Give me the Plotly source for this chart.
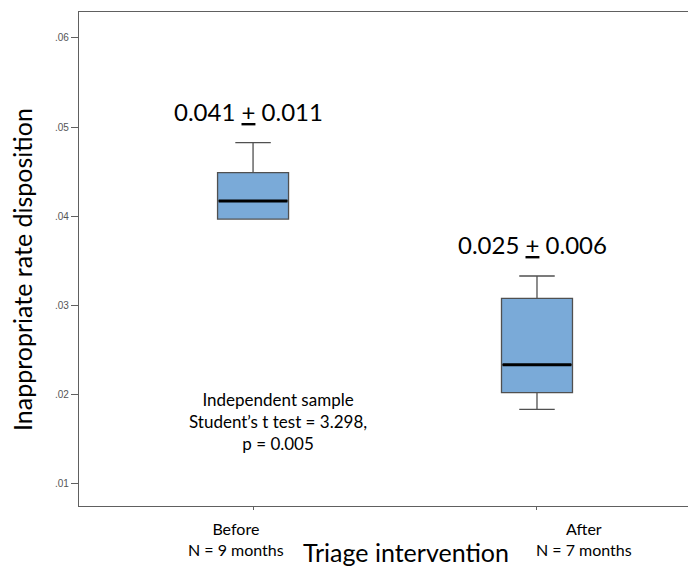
import plotly.graph_objects as go

# ---- data ----
groups = ["Before", "After"]
group_labels = ["Before<br>N = 9 months", "After<br>N = 7 months"]
positions = [0, 1]
q1 = [0.03966, 0.02015]
median = [0.04169, 0.02329]
q3 = [0.04487, 0.03075]
lower_fence = [0.03966, 0.01828]
upper_fence = [0.04824, 0.03326]
summary_text = ["0.041 <u>+</u> 0.011", "0.025 <u>+</u> 0.006"]
y_ticks = [0.01, 0.02, 0.03, 0.04, 0.05, 0.06]
y_tick_text = [".01", ".02", ".03", ".04", ".05", ".06"]

BOX_W = 0.25
FONT = "Lato"

# page has an 8px body margin; work in page pixels and convert
OFF = 8
W, H = 696 - OFF, 568 - OFF
plot_l, plot_r, plot_t, plot_b = 79 - OFF, 696 - OFF, 12 - OFF, 506 - OFF


def px(x):
    return (x - OFF - plot_l) / (plot_r - plot_l)


def py(y):
    return (plot_b - (y - OFF)) / (plot_b - plot_t)


fig = go.Figure()
fig.add_trace(go.Box(
    x=positions, q1=q1, median=median, q3=q3,
    lowerfence=lower_fence, upperfence=upper_fence,
    width=BOX_W, whiskerwidth=0.5,
    fillcolor="#7AAAD8", line=dict(color="#505050", width=1.3),
    boxpoints=False, showlegend=False, hoverinfo="skip",
))

# thick black median lines
mx, my = [], []
for p, m in zip(positions, median):
    mx += [p - BOX_W / 2 + 0.004, p + BOX_W / 2 - 0.004, None]
    my += [m, m, None]
fig.add_trace(go.Scatter(x=mx, y=my, mode="lines",
                         line=dict(color="black", width=3),
                         showlegend=False, hoverinfo="skip"))

annotations = []
# mean +/- sd labels above boxes
for p, uf, t in zip(positions, upper_fence, summary_text):
    annotations.append(dict(x=p - 0.015, y=uf + 0.0035,
                            xref="x", yref="y", text=t, showarrow=False,
                            xanchor="center", yanchor="middle",
                            font=dict(family=FONT, size=24, color="black")))
# group labels (placed like the original)
for lx, t in zip([236, 584], group_labels):
    annotations.append(dict(x=px(lx), y=py(517), xref="paper", yref="paper",
                            text=t, showarrow=False, align="center",
                            xanchor="center", yanchor="top",
                            font=dict(family=FONT, size=16, color="black")))
# x axis title
annotations.append(dict(x=px(406), y=py(552), xref="paper", yref="paper",
                        text="Triage intervention", showarrow=False,
                        xanchor="center", yanchor="middle",
                        font=dict(family=FONT, size=25, color="black")))
# y axis title
annotations.append(dict(x=px(22), y=py(270), xref="paper", yref="paper",
                        text="Inappropriate rate disposition", showarrow=False,
                        textangle=-90, xanchor="center", yanchor="middle",
                        font=dict(family=FONT, size=25, color="black")))
# statistics text
annotations.append(dict(x=px(278), y=py(421), xref="paper", yref="paper",
                        text="Independent sample<br>Student\u2019s t test = 3.298,<br>p = 0.005",
                        showarrow=False, align="center",
                        xanchor="center", yanchor="middle",
                        font=dict(family=FONT, size=17, color="black")))

fig.update_layout(
    width=W, height=H,
    margin=dict(l=plot_l, r=W - plot_r, t=plot_t, b=H - plot_b),
    plot_bgcolor="white", paper_bgcolor="white",
    annotations=annotations,
    font=dict(family=FONT),
)
fig.update_xaxes(range=[-0.613, 1.56], tickvals=positions, ticktext=["", ""],
                 showgrid=False, zeroline=False, showline=True, mirror=True,
                 linecolor="#606060", linewidth=1.3, ticks="outside", ticklen=3,
                 tickcolor="#606060")
fig.update_yaxes(range=[0.00742, 0.06292], tickvals=y_ticks, ticktext=y_tick_text,
                 showgrid=False, zeroline=False, showline=True, mirror=False,
                 linecolor="#606060", linewidth=1.3, ticks="outside", ticklen=7,
                 tickcolor="#606060",
                 tickfont=dict(family="Liberation Sans", size=10, color="#555555"))

fig.write_html("out.html")
